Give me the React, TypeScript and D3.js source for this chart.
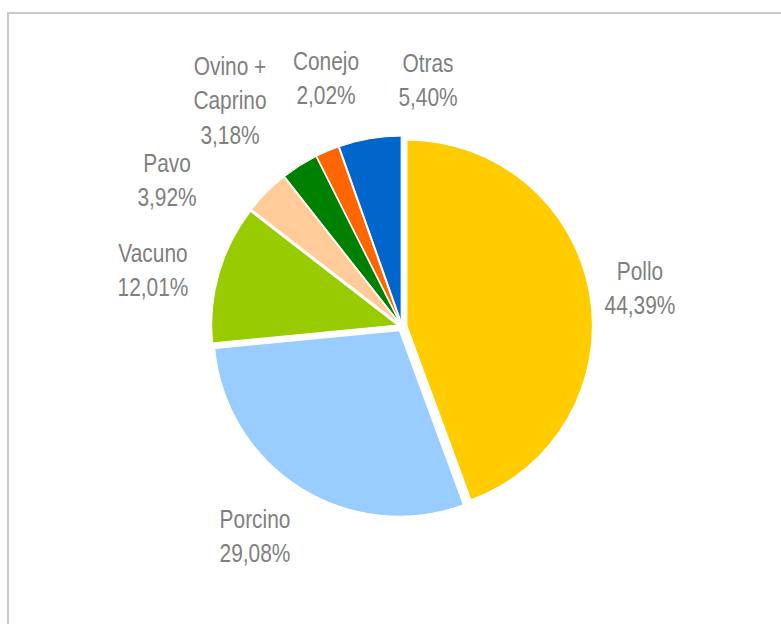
import * as d3 from 'd3';
import { useEffect, useRef } from 'react';

const categories = ['Pollo', 'Porcino', 'Vacuno', 'Pavo', 'Ovino + Caprino', 'Conejo', 'Otras'];
const shares = [44.39, 29.08, 12.01, 3.92, 3.18, 2.02, 5.4];
const labelLines = [
  ['Pollo'],
  ['Porcino'],
  ['Vacuno'],
  ['Pavo'],
  ['Ovino +', 'Caprino'],
  ['Conejo'],
  ['Otras'],
];
const colors = ['#FFCC00', '#99CCFF', '#99CC00', '#FFCC99', '#008000', '#FF6600', '#0066CC'];

// label anchors (centre x, first baseline), placed like the original best-fit labels
const labelPos: [number, number][] = [
  [640, 280],
  [255, 528],
  [153, 262],
  [167, 172],
  [230, 75],
  [326, 70],
  [428, 72],
];

const width = 781;
const height = 624;
const cx = 402;
const cy = 326.5;
const radius = 185.5;
const explode = 5;
const lineH = 34.5;

function App() {
  const svgElement = useRef<SVGSVGElement | null>(null);

  useEffect(() => {
    const svg = d3.select(svgElement.current);
    svg.selectAll('*').remove();

    // chart frame
    svg
      .append('rect')
      .attr('x', 8)
      .attr('y', 13)
      .attr('width', width + 20)
      .attr('height', height + 20)
      .attr('fill', '#fff')
      .attr('stroke', '#C8C8C8')
      .attr('stroke-width', 2);

    const data = categories.map((name, i) => ({ name, value: shares[i], color: colors[i], i }));

    const pie = d3
      .pie<(typeof data)[number]>()
      .value((d) => d.value)
      .sort(null);
    const arc = d3.arc<d3.PieArcDatum<(typeof data)[number]>>().innerRadius(0).outerRadius(radius);

    const chart = svg.append('g').attr('transform', `translate(${cx}, ${cy})`);

    chart
      .selectAll('.slice')
      .data(pie(data))
      .join('path')
      .attr('class', 'slice')
      .attr('d', arc)
      .attr('fill', (d) => d.data.color)
      .attr('stroke', '#fff')
      .attr('stroke-width', 1)
      .attr('transform', (d) => {
        const a = (d.startAngle + d.endAngle) / 2;
        return `translate(${explode * Math.sin(a)}, ${-explode * Math.cos(a)})`;
      });

    // labels (narrow face: squeeze Liberation Sans horizontally)
    const labels = svg
      .selectAll('.label')
      .data(data)
      .join('g')
      .attr('class', 'label')
      .attr('transform', (d) => `translate(${labelPos[d.i][0]}, ${labelPos[d.i][1]}) scale(0.82, 1)`)
      .append('text')
      .attr('text-anchor', 'middle')
      .attr('font-family', "'Liberation Sans', Arial, sans-serif")
      .attr('font-size', 25.5)
      .attr('fill', '#7F7F7F');

    labels.each(function (d) {
      const lines = [...labelLines[d.i], `${d.value.toFixed(2).replace('.', ',')}%`];
      d3.select(this)
        .selectAll('tspan')
        .data(lines)
        .join('tspan')
        .attr('x', 0)
        .attr('y', (_, k) => k * lineH)
        .text((t) => t);
    });
  }, []);

  return (
    <svg
      ref={svgElement}
      width={width}
      height={height}
      style={{ position: 'absolute', left: 0, top: 0, background: '#fff' }}
    />
  );
}

export default App;
